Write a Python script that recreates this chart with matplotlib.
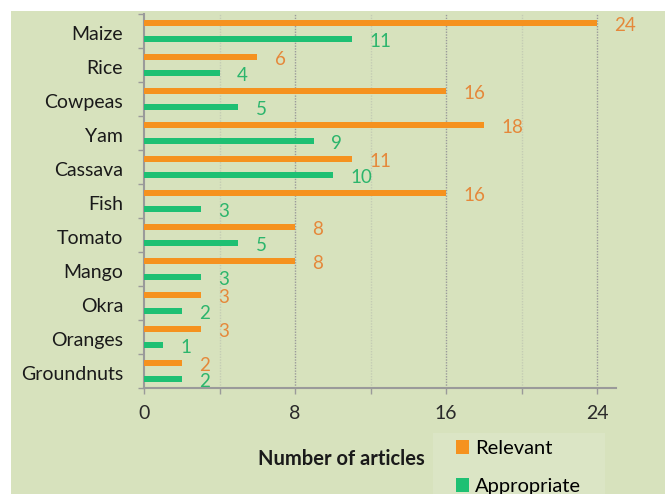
import matplotlib
matplotlib.use("Agg")
import matplotlib.pyplot as plt
from matplotlib.patches import Rectangle, Patch
from matplotlib.transforms import ScaledTranslation
import numpy as np

categories = ["Maize", "Rice", "Cowpeas", "Yam", "Cassava", "Fish", "Tomato",
              "Mango", "Okra", "Oranges", "Groundnuts"]
relevant = [24, 6, 16, 18, 11, 16, 8, 8, 3, 3, 2]
appropriate = [11, 4, 5, 9, 10, 3, 5, 3, 2, 1, 2]
xtick_major = [0, 8, 16, 24]
xtick_minor = [4, 12, 20]

ORANGE = "#f5921f"
GREEN = "#1ec073"
ORANGE_TXT = "#e5883a"
GREEN_TXT = "#2cb56c"
BG = "#d7e2bd"
BG_LEG = "#dbe5c5"

plt.rcParams['font.family'] = ['Lato', 'DejaVu Sans']

W, H = 665, 494
fig = plt.figure(figsize=(W / 100, H / 100), dpi=100, facecolor="white")
fig.add_artist(Rectangle((11 / W, 0), 1 - 11 / W, 1 - 11 / H, transform=fig.transFigure,
                         facecolor=BG, edgecolor="none", zorder=-10))

left, right, top, bottom = 144, 616, 14, 388
ax = fig.add_axes([left / W, 1 - bottom / H, (right - left) / W, (bottom - top) / H])
ax.set_facecolor("none")

n = len(categories)
y = np.arange(n)
off = 0.235
h = 0.2
b1 = ax.barh(y - off, relevant, height=h, color=ORANGE, zorder=3, label="Relevant")
b2 = ax.barh(y + off, appropriate, height=h, color=GREEN, zorder=3, label="Appropriate")

for yi, v in zip(y, relevant):
    ax.annotate(str(v), (v, yi - off), xytext=(12.5, -2), textcoords="offset points",
                ha="left", va="center", color=ORANGE_TXT, fontsize=13.5)
for yi, v in zip(y, appropriate):
    ax.annotate(str(v), (v, yi + off), xytext=(12.5, -2), textcoords="offset points",
                ha="left", va="center", color=GREEN_TXT, fontsize=13.5)

ax.set_xlim(0, 25)
ax.set_ylim(n - 0.5, -0.5)
ax.set_yticks(y)
ax.set_yticklabels(categories, fontsize=14, color="#1a1a1a")
ax.set_yticks(np.arange(n + 1) - 0.5, minor=True)
ax.tick_params(axis="y", which="major", length=0, pad=15)
ax.tick_params(axis="y", which="minor", length=4, color="#9a9a9a", width=1)
shift = ScaledTranslation(0, -1.5 / 72, fig.dpi_scale_trans)
for lab in ax.get_yticklabels():
    lab.set_transform(lab.get_transform() + shift)

ax.set_xticks(xtick_major)
ax.set_xticklabels([str(t) for t in xtick_major], fontsize=14, color="#2a2a2a")
ax.set_xticks(xtick_minor, minor=True)
ax.tick_params(axis="x", which="both", length=4, color="#9a9a9a", width=1, pad=8)

for t in xtick_major[1:]:
    ax.axvline(t, color="#9a9a9a", linestyle=(0, (1, 1)), linewidth=1, zorder=1)
for t in xtick_minor:
    ax.axvline(t, color="#c4ccb4", linestyle=(0, (1, 1)), linewidth=1, zorder=1)

for s in ["top", "right"]:
    ax.spines[s].set_visible(False)
for s in ["left", "bottom"]:
    ax.spines[s].set_color("#9a9a9a")
    ax.spines[s].set_linewidth(1.5)

fig.text(341 / W, 1 - 459 / H, "Number of articles", ha="center", va="center",
         fontsize=14.5, fontweight="bold", color="#1a1a1a")

fig.add_artist(Rectangle((433 / W, 0), (605 - 433) / W, 1 - 433 / H, transform=fig.transFigure,
                         facecolor=BG_LEG, edgecolor="none", zorder=-5))
handles = [Patch(facecolor=ORANGE, edgecolor="none"), Patch(facecolor=GREEN, edgecolor="none")]
fig.legend(handles, ["Relevant", "Appropriate"], loc="upper left",
           bbox_to_anchor=(449 / W, 1 - 433 / H), frameon=False, fontsize=14.5,
           handlelength=0.65, handleheight=0.65, handletextpad=0.3, labelspacing=1.05,
           borderaxespad=0, borderpad=0.35)

fig.savefig("out.png", dpi=100, facecolor="white")
